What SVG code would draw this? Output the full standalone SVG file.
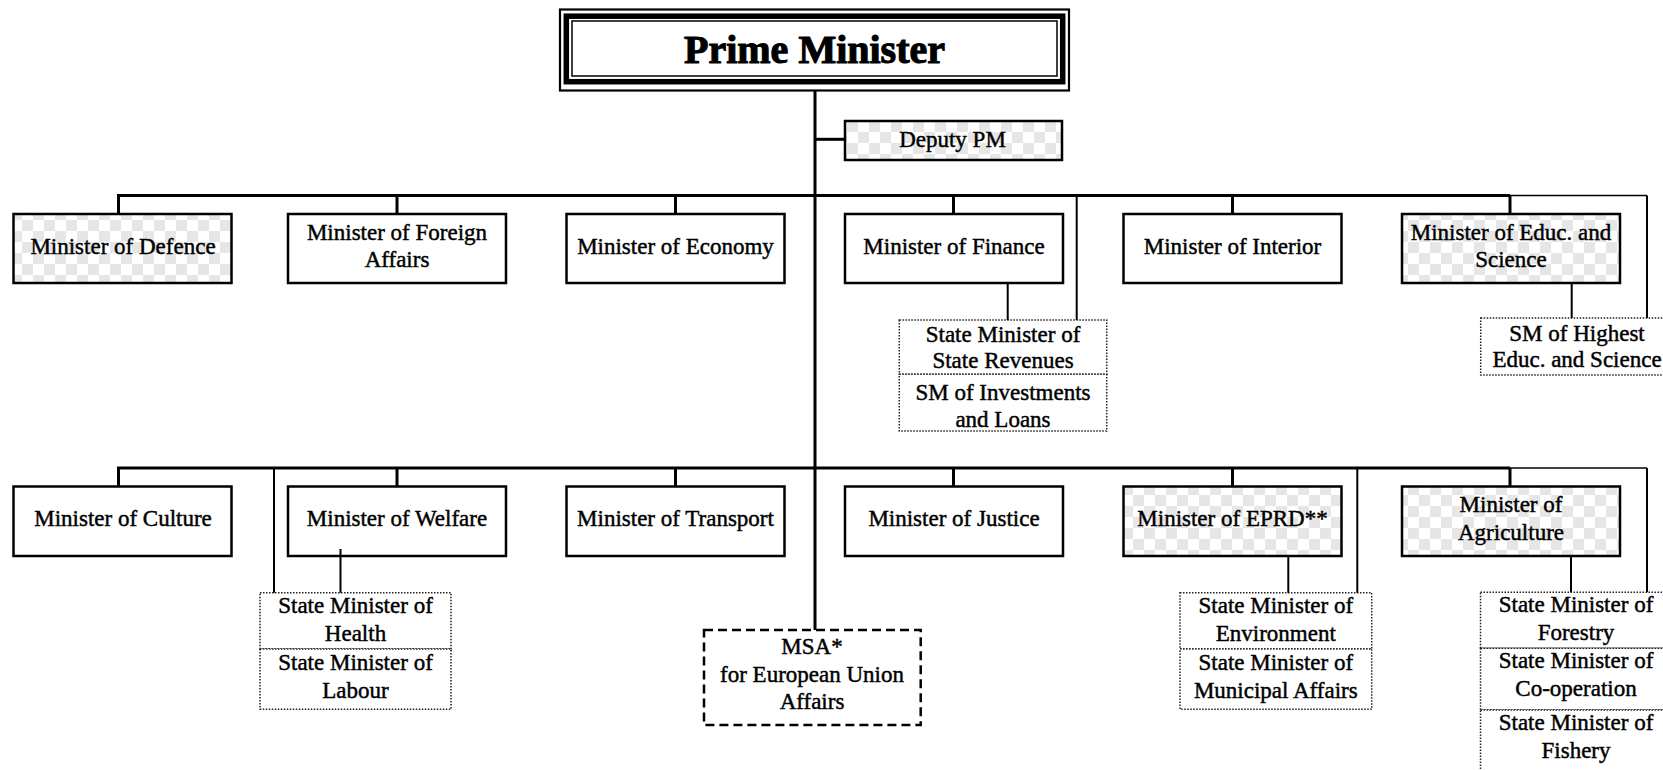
<svg xmlns="http://www.w3.org/2000/svg" width="1663" height="770" viewBox="0 0 1663 770">
<style>
text{font-family:"Liberation Serif","Times New Roman",serif;font-size:23px;fill:#000;text-anchor:middle;stroke:#000;stroke-width:0.45}
.pm{font-size:40px;font-weight:bold;stroke-width:1.1}
.box{fill:#fff;stroke:#000;stroke-width:2.5}
.shade{fill:url(#checker);stroke:#000;stroke-width:2.5}
.sm{fill:#fff;stroke:#222;stroke-width:1.5;stroke-dasharray:1.5 1.5}
.msa{fill:#fff;stroke:#000;stroke-width:2.5;stroke-dasharray:9 5}
.thick{stroke:#000;stroke-width:3;fill:none}
.mid{stroke:#000;stroke-width:2;fill:none}
.thin{stroke:#000;stroke-width:1.5;fill:none}
</style>
<defs>
<pattern id="checker" patternUnits="userSpaceOnUse" width="22" height="22">
<rect width="22" height="22" fill="#fff"/>
<rect width="11" height="11" fill="#e6e6e6"/>
<rect x="11" y="11" width="11" height="11" fill="#e6e6e6"/>
</pattern>
</defs>
<rect width="1663" height="770" fill="#fff"/>

<g id="pm">
<rect x="560" y="9.5" width="509" height="81" fill="#fff" stroke="#000" stroke-width="2.2"/>
<rect x="566.3" y="16.2" width="496.4" height="65.5" fill="none" stroke="#000" stroke-width="5.5"/>
<rect x="572" y="21" width="485" height="55" fill="none" stroke="#000" stroke-width="1.5"/>
<text class="pm" x="814.5" y="63">Prime Minister</text>
</g>

<g id="deputy">
<rect class="shade" x="845" y="121" width="217" height="39"/>
<text x="952.5" y="147">Deputy PM</text>
</g>

<g id="defence"><rect class="shade" x="13.5" y="214" width="218" height="69"/><text x="123" y="253.5">Minister of Defence</text></g>
<g id="foreign"><rect class="box" x="288" y="214" width="218" height="69"/><text x="397" y="240">Minister of Foreign</text><text x="397" y="267.3">Affairs</text></g>
<g id="economy"><rect class="box" x="566.5" y="214" width="218" height="69"/><text x="675.5" y="253.5">Minister of Economy</text></g>
<g id="finance"><rect class="box" x="845" y="214" width="218" height="69"/><text x="954" y="253.5">Minister of Finance</text></g>
<g id="interior"><rect class="box" x="1123.5" y="214" width="218" height="69"/><text x="1232.5" y="253.5">Minister of Interior</text></g>
<g id="educ"><rect class="shade" x="1402" y="214" width="218" height="69"/><text x="1511" y="240">Minister of Educ. and</text><text x="1511" y="267.3">Science</text></g>

<g id="sm-revenues"><rect class="sm" x="899.3" y="320" width="207.4" height="54.3"/><text x="1003" y="341.7">State Minister of</text><text x="1003" y="368.3">State Revenues</text></g>
<g id="sm-investments"><rect class="sm" x="899.3" y="374.3" width="207.4" height="56.7"/><text x="1003" y="400">SM of Investments</text><text x="1003" y="426.7">and Loans</text></g>
<g id="sm-higher"><rect class="sm" x="1480.7" y="318" width="215" height="57"/><text x="1577" y="340.7">SM of Highest</text><text x="1577" y="367.3">Educ. and Science</text></g>

<g id="culture"><rect class="box" x="13.5" y="486.5" width="218" height="69.5"/><text x="123" y="526">Minister of Culture</text></g>
<g id="welfare"><rect class="box" x="288" y="486.5" width="218" height="69.5"/><text x="397" y="526">Minister of Welfare</text></g>
<g id="transport"><rect class="box" x="566.5" y="486.5" width="218" height="69.5"/><text x="675.5" y="526">Minister of Transport</text></g>
<g id="justice"><rect class="box" x="845" y="486.5" width="218" height="69.5"/><text x="954" y="526">Minister of Justice</text></g>
<g id="eprd"><rect class="shade" x="1123.5" y="486.5" width="218" height="69.5"/><text x="1232.5" y="526">Minister of EPRD**</text></g>
<g id="agriculture"><rect class="shade" x="1402" y="486.5" width="218" height="69.5"/><text x="1511" y="512">Minister of</text><text x="1511" y="540">Agriculture</text></g>

<g id="sm-health"><rect class="sm" x="260" y="592.7" width="191" height="56.3"/><text x="355.5" y="612.7">State Minister of</text><text x="355.5" y="640.7">Health</text></g>
<g id="sm-labour"><rect class="sm" x="260" y="649" width="191" height="60.3"/><text x="355.5" y="670">State Minister of</text><text x="355.5" y="698.3">Labour</text></g>

<g id="msa"><rect class="msa" x="704" y="630" width="216.7" height="95"/><text x="812" y="654">MSA*</text><text x="812" y="681.7">for European Union</text><text x="812" y="709.3">Affairs</text></g>

<g id="sm-environment"><rect class="sm" x="1180" y="592.7" width="191.7" height="56.3"/><text x="1275.8" y="612.7">State Minister of</text><text x="1275.8" y="640.7">Environment</text></g>
<g id="sm-municipal"><rect class="sm" x="1180" y="649" width="191.7" height="60.3"/><text x="1275.8" y="670">State Minister of</text><text x="1275.8" y="698.3">Municipal Affairs</text></g>

<g id="sm-forestry"><rect class="sm" x="1480.5" y="592.3" width="215" height="56"/><text x="1576" y="611.7">State Minister of</text><text x="1576" y="640">Forestry</text></g>
<g id="sm-cooperation"><rect class="sm" x="1480.5" y="648.3" width="215" height="61.7"/><text x="1576" y="668.3">State Minister of</text><text x="1576" y="695.7">Co-operation</text></g>
<g id="sm-fishery"><rect class="sm" x="1480.5" y="710" width="215" height="80"/><text x="1576" y="730">State Minister of</text><text x="1576" y="758.3">Fishery</text></g>

<g id="connectors">
<path class="thick" d="M815 91V630"/>
<path class="thick" d="M815 139.3H845"/>
<path class="thick" d="M117 195.5H1510"/>
<path class="thin" d="M1510 195.5H1647"/>
<path class="thick" d="M118.5 195.5V214M397 195.5V214M675.5 195.5V214M953.5 195.5V214M1232.5 195.5V214M1510 195.5V214"/>
<path class="mid" d="M1007.7 283V320M1076.7 195.5V320"/>
<path class="mid" d="M1571.7 283V318M1647 195.5V318"/>
<path class="thick" d="M117 468H1510"/>
<path class="thin" d="M1510 468H1647"/>
<path class="thick" d="M118.5 468V486.5M397 468V486.5M675.5 468V486.5M953.5 468V486.5M1232.5 468V486.5M1510 468V486.5"/>
<path class="mid" d="M274 468V592.7M340.5 549V592.7"/>
<path class="mid" d="M1288.3 556V592.7M1357.3 468V592.7"/>
<path class="mid" d="M1571 556V592.3M1647 468V592.3"/>
</g>
</svg>
